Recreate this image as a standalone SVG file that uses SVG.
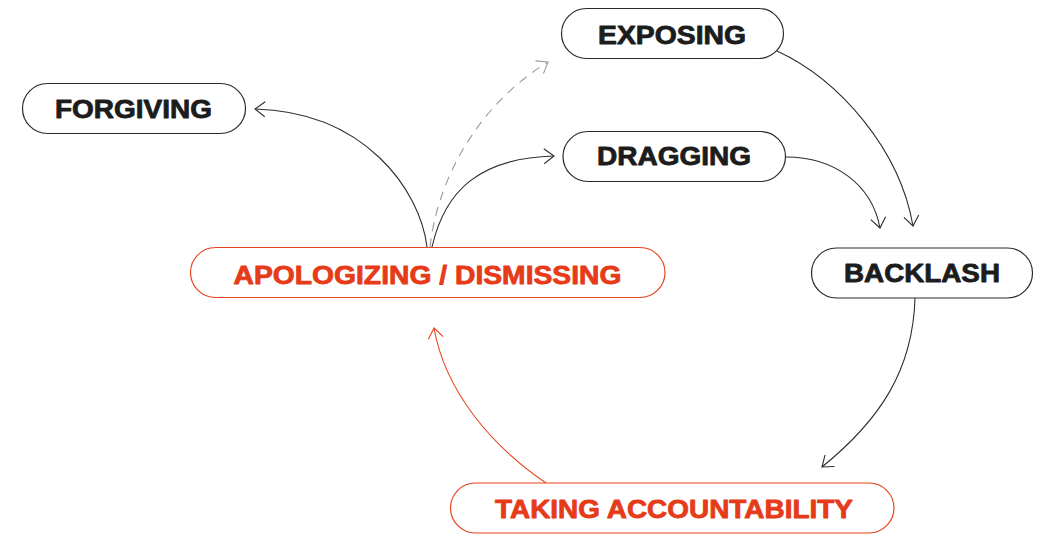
<svg xmlns="http://www.w3.org/2000/svg" width="1043" height="534" viewBox="0 0 1043 534">
  <style>
    .pill { fill: #ffffff; stroke: #2a2a2a; stroke-width: 1.2; }
    .pill.hot { stroke: #e8431f; }
    .label { font-family: "Liberation Sans", Arial, sans-serif; font-weight: 700; font-size: 25px; fill: #1c1c1c; stroke: #1c1c1c; stroke-width: 0.8; stroke-linejoin: round; text-anchor: middle; }
    .label.hot { fill: #e63b19; stroke: #e63b19; }
    .edge { fill: none; stroke: #2e2e2e; stroke-width: 1.1; }
    .edge.dash { stroke: #9a9a9a; stroke-dasharray: 9 7; }
    .edge.hot { stroke: #e8431f; }
  </style>
  <defs>
    <marker id="arrow" viewBox="-11 -8 13 16" refX="0" refY="0" markerWidth="13" markerHeight="16" markerUnits="userSpaceOnUse" orient="auto">
      <path d="M-10,-7.5 L0,0 L-10,7.5" fill="none" stroke="#2e2e2e" stroke-width="1.1"/>
    </marker>
    <marker id="arrow-gray" viewBox="-11 -8 13 16" refX="0" refY="0" markerWidth="13" markerHeight="16" markerUnits="userSpaceOnUse" orient="auto">
      <path d="M-10,-7.5 L0,0 L-10,7.5" fill="none" stroke="#9a9a9a" stroke-width="1.1"/>
    </marker>
    <marker id="arrow-hot" viewBox="-11 -8 13 16" refX="0" refY="0" markerWidth="13" markerHeight="16" markerUnits="userSpaceOnUse" orient="auto">
      <path d="M-10,-7.5 L0,0 L-10,7.5" fill="none" stroke="#e8431f" stroke-width="1.1"/>
    </marker>
  </defs>

  <g id="connectors">
    <!-- apologizing / dismissing -> forgiving -->
    <path class="edge" d="M427,247 C420,190 365,112 255,109" marker-end="url(#arrow)"/>
    <!-- apologizing / dismissing -> exposing (dashed) -->
    <path class="edge dash" d="M430,247 C436,190 470,110 548,62" marker-end="url(#arrow-gray)"/>
    <!-- apologizing / dismissing -> dragging -->
    <path class="edge" d="M432,247 C445,190 480,158 554,156" marker-end="url(#arrow)"/>
    <!-- dragging -> backlash -->
    <path class="edge" d="M786,157 C835,157 872,185 880,228" marker-end="url(#arrow)"/>
    <!-- exposing -> backlash -->
    <path class="edge" d="M777,51 C840,80 900,150 913,226" marker-end="url(#arrow)"/>
    <!-- backlash -> taking accountability -->
    <path class="edge" d="M915,298 C913,370 880,420 822,467" marker-end="url(#arrow)"/>
    <!-- taking accountability -> apologizing / dismissing -->
    <path class="edge hot" d="M546,483 C490,445 445,390 434,328" marker-end="url(#arrow-hot)"/>
  </g>

  <g id="node-forgiving">
    <rect class="pill" x="22.5" y="83.5" width="223" height="50" rx="25"/>
    <text class="label" x="133.5" y="117.5" textLength="157" lengthAdjust="spacingAndGlyphs">FORGIVING</text>
  </g>

  <g id="node-exposing">
    <rect class="pill" x="561.5" y="8.5" width="222" height="50" rx="25"/>
    <text class="label" x="672" y="43.5" textLength="148" lengthAdjust="spacingAndGlyphs">EXPOSING</text>
  </g>

  <g id="node-dragging">
    <rect class="pill" x="563" y="131.5" width="222.5" height="50" rx="25"/>
    <text class="label" x="674" y="164.5" textLength="154" lengthAdjust="spacingAndGlyphs">DRAGGING</text>
  </g>

  <g id="node-backlash">
    <rect class="pill" x="811.5" y="248" width="221" height="50" rx="25"/>
    <text class="label" x="922" y="281.7" textLength="156" lengthAdjust="spacingAndGlyphs">BACKLASH</text>
  </g>

  <g id="node-apologizing">
    <rect class="pill hot" x="190.5" y="247.5" width="474.5" height="50" rx="25"/>
    <text class="label hot" x="427.5" y="284" textLength="388" lengthAdjust="spacingAndGlyphs">APOLOGIZING / DISMISSING</text>
  </g>

  <g id="node-accountability">
    <rect class="pill hot" x="450.5" y="483" width="443.5" height="50" rx="25"/>
    <text class="label hot" x="674" y="518" textLength="358" lengthAdjust="spacingAndGlyphs">TAKING ACCOUNTABILITY</text>
  </g>
</svg>
